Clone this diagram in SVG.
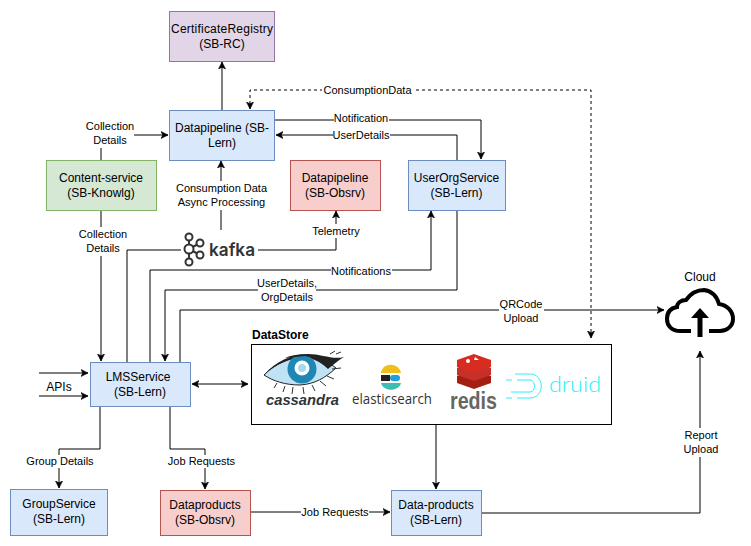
<svg xmlns="http://www.w3.org/2000/svg" width="751" height="546" viewBox="0 0 751 546">
<style>
text{font-family:"Liberation Sans",Arial,sans-serif;fill:#000}
.n{font-size:12px;text-anchor:middle}
.l{font-size:11px;text-anchor:middle}
.lb{fill:#fff;stroke:none}
.c{fill:none;stroke:#000;stroke-width:1}
.blue{fill:#dae8fc;stroke:#6c8ebf}
.green{fill:#d5e8d4;stroke:#82b366}
.red{fill:#f8cecc;stroke:#b85450}
.purple{fill:#e1d5e7;stroke:#9673a6}
</style>
<defs>
<marker id="a" markerWidth="8" markerHeight="8" refX="7" refY="4" orient="auto-start-reverse" markerUnits="userSpaceOnUse"><path d="M0 .5L7 4L0 7.5L1.800 4Z" fill="#000" stroke="#000" stroke-width=".6"/></marker>
</defs>
<rect width="751" height="546" fill="#fff"/>
<g id="connectors">
<path class="c" d="M222 110V62" marker-end="url(#a)"/>
<path class="c" d="M101 160V135H168" marker-end="url(#a)"/>
<path class="c" d="M221 230V161" marker-end="url(#a)"/>
<path class="c" d="M591 338V90H250V109" stroke-dasharray="3 3" marker-start="url(#a)" marker-end="url(#a)"/>
<path class="c" d="M275 120H481V159" marker-end="url(#a)"/>
<path class="c" d="M457 160V135H276" marker-end="url(#a)"/>
<path class="c" d="M101 210V361" marker-end="url(#a)"/>
<path class="c" d="M258 250H336V211" marker-end="url(#a)"/>
<path class="c" d="M181 250H127V362"/>
<path class="c" d="M150 362V270H431V211" marker-end="url(#a)"/>
<path class="c" d="M457 210V290H165V361" marker-end="url(#a)"/>
<path class="c" d="M180 362V310H664" marker-end="url(#a)"/>
<path class="c" d="M192 384H248" marker-start="url(#a)" marker-end="url(#a)"/>
<path class="c" d="M39 373H88" marker-end="url(#a)"/>
<path class="c" d="M39 396H88" marker-end="url(#a)"/>
<path class="c" d="M100 406V449H59V488" marker-end="url(#a)"/>
<path class="c" d="M170 406V449H205V489" marker-end="url(#a)"/>
<path class="c" d="M251 512H390" marker-end="url(#a)"/>
<path class="c" d="M436 424V489" marker-end="url(#a)"/>
<path class="c" d="M482 513H700V351" marker-end="url(#a)"/>
<g id="connector-labels">
<rect class="lb" x="82" y="120" width="52" height="28"/>
<text class="l" x="110" y="130">Collection</text><text class="l" x="110" y="144">Details</text>
<rect class="lb" x="174" y="181" width="96" height="29"/>
<text class="l" x="221.500" y="192">Consumption Data</text><text class="l" x="221.500" y="206">Async Processing</text>
<rect class="lb" x="322" y="84" width="91" height="13"/>
<text class="l" x="367.500" y="94">ConsumptionData</text>
<rect class="lb" x="334" y="113" width="55" height="13"/>
<text class="l" x="361" y="122">Notification</text>
<rect class="lb" x="333" y="129" width="57" height="13"/>
<text class="l" x="361" y="139">UserDetails</text>
<rect class="lb" x="78" y="227" width="48" height="29"/>
<text class="l" x="103" y="238">Collection</text><text class="l" x="103" y="252">Details</text>
<rect class="lb" x="312" y="224" width="49" height="14"/>
<text class="l" x="336" y="235">Telemetry</text>
<rect class="lb" x="331" y="264" width="61" height="13"/>
<text class="l" x="361" y="275">Notifications</text>
<rect class="lb" x="258" y="277" width="58" height="28"/>
<text class="l" x="287" y="287">UserDetails,</text><text class="l" x="287" y="301">OrgDetails</text>
<rect class="lb" x="499" y="297" width="45" height="28"/>
<text class="l" x="521" y="308">QRCode</text><text class="l" x="521" y="322">Upload</text>
<rect class="lb" x="26" y="455" width="69" height="13"/>
<text class="l" x="60" y="465">Group Details</text>
<rect class="lb" x="167" y="455" width="70" height="13"/>
<text class="l" x="201.500" y="465">Job Requests</text>
<rect class="lb" x="301" y="505" width="68" height="14"/>
<text class="l" x="335" y="516">Job Requests</text>
<rect class="lb" x="683" y="428" width="36" height="29"/>
<text class="l" x="701" y="439">Report</text><text class="l" x="701" y="453">Upload</text>
<text class="n" x="59" y="391">APIs</text>
</g>
</g>
<g id="certificate-registry"><rect class="purple" x="169.500" y="11.500" width="105" height="50"/><text class="n" x="222" y="33" textLength="102" lengthAdjust="spacing">CertificateRegistry</text><text class="n" x="222" y="48">(SB-RC)</text></g>
<g id="datapipeline-lern"><rect class="blue" x="169.500" y="110.500" width="105" height="50"/><text class="n" x="222" y="132">Datapipeline (SB-</text><text class="n" x="222" y="147">Lern)</text></g>
<g id="content-service"><rect class="green" x="46.500" y="160.500" width="110" height="50"/><text class="n" x="101" y="182">Content-service</text><text class="n" x="101" y="197">(SB-Knowlg)</text></g>
<g id="datapipeline-obsrv"><rect class="red" x="290.500" y="160.500" width="90" height="50"/><text class="n" x="335" y="182">Datapipeline</text><text class="n" x="335" y="197">(SB-Obsrv)</text></g>
<g id="userorg-service"><rect class="blue" x="408.500" y="160.500" width="97" height="50"/><text class="n" x="456.500" y="182">UserOrgService</text><text class="n" x="456.500" y="197">(SB-Lern)</text></g>
<g id="lms-service"><rect class="blue" x="90.500" y="362.500" width="100" height="44"/><text class="n" x="138" y="381">LMSService</text><text class="n" x="140" y="396">(SB-Lern)</text></g>
<g id="group-service"><rect class="blue" x="10.500" y="489.500" width="97" height="46"/><text class="n" x="59" y="508">GroupService</text><text class="n" x="59" y="523">(SB-Lern)</text></g>
<g id="dataproducts-obsrv"><rect class="red" x="160.500" y="490.500" width="90" height="45"/><text class="n" x="205" y="509">Dataproducts</text><text class="n" x="205" y="524">(SB-Obsrv)</text></g>
<g id="dataproducts-lern"><rect class="blue" x="391.500" y="490.500" width="90" height="45"/><text class="n" x="436" y="509">Data-products</text><text class="n" x="436" y="524">(SB-Lern)</text></g>
<g id="kafka">
<g fill="none" stroke="#333" stroke-width="2">
<path d="M189 240V259M189 249L200 243M189 249L200 255"/>
<circle cx="189" cy="237" r="3.500" fill="#fff"/><circle cx="189" cy="249" r="4.500" fill="#fff"/><circle cx="189" cy="262" r="3.500" fill="#fff"/><circle cx="200" cy="243" r="3.500" fill="#fff"/><circle cx="200" cy="255" r="3.500" fill="#fff"/>
</g>
<text x="209" y="256" font-size="17.500" font-weight="600" textLength="46" lengthAdjust="spacingAndGlyphs" style="font-family:Inter,'Liberation Sans',sans-serif;fill:#333">kafka</text>
</g>
<g id="datastore">
<text x="252" y="339" font-size="12" font-weight="700">DataStore</text>
<rect x="251.500" y="344.500" width="360" height="80" fill="#fff" stroke="#000"/>
<g id="cassandra">
<path d="M264 375C276 363 290 357 305 356C318 356 328 362 336 368C325 378 315 384 300 385C285 385 273 381 264 375Z" fill="#bfe3f5" stroke="#222" stroke-width="1"/>
<path d="M264 375C276 361 292 354 308 354C322 354 332 360 344 357C336 362 332 366 328 369C320 361 312 358 303 358C290 358 276 364 264 375Z" fill="#222"/>
<circle cx="302" cy="369" r="14.500" fill="#1f86b5"/>
<path d="M285 358C295 353 312 353 322 360L305 356Z" fill="#222"/>
<circle cx="302" cy="368" r="7.500" fill="#fff"/><circle cx="302" cy="368" r="4" fill="#a6d9ef"/>
<path d="M277 383L274 388M285 386L283 392M293 387L292 394M303 387L304 394M312 385L315 391M320 381L326 386M327 376L334 379M332 369L341 368M330 354L335 351M336 354L341 352" stroke="#333" stroke-width="1" fill="none"/>
<text x="266" y="405" font-size="15" font-weight="700" font-style="italic" textLength="73" lengthAdjust="spacingAndGlyphs" style="fill:#333">cassandra</text>
</g>
<g id="elasticsearch">
<path d="M381 373C382 362 399 362 401 373Z" fill="#f0bf1a"/>
<rect x="381" y="375" width="9" height="6" fill="#231f20"/><rect x="390" y="375" width="10" height="6" rx="3" fill="#1ba1dc"/>
<path d="M381 383H401C399 392 383 392 381 383Z" fill="#3ebeb0"/>
<text x="352" y="404" font-size="14" textLength="80" lengthAdjust="spacingAndGlyphs" style="fill:#333;font-family:'Open Sans','Liberation Sans',sans-serif">elasticsearch</text>
</g>
<g id="redis">
<path d="M457 376L474 370L491 376V383L474 389L457 383Z" fill="#a41e11"/>
<path d="M457 368L474 362L491 368V375L474 381L457 375Z" fill="#c6302b"/>
<path d="M457 360L474 354L491 360V367L474 373L457 367Z" fill="#d82c20"/>
<circle cx="468" cy="361" r="2" fill="#fff"/><path d="M475 357l4 3h-5Z" fill="#fff"/>
<text x="450" y="409" font-size="24" font-weight="700" textLength="47" lengthAdjust="spacingAndGlyphs" style="fill:#666">redis</text>
</g>
<g id="druid" fill="none" stroke="#2ceefb" stroke-width="1">
<path d="M515 374H530C545 374 545 398 530 398H517"/><path d="M506 380H512M517 380H530C536 380 536 392 530 392H511"/><path d="M506 398H512"/>
<text x="549" y="392" font-size="22" font-weight="300" textLength="52" lengthAdjust="spacingAndGlyphs" stroke="none" style="fill:#2ceefb;font-family:Lato,'Liberation Sans',sans-serif">druid</text>
</g>
</g>
<g id="cloud">
<text class="n" x="700" y="281">Cloud</text>
<path d="M691 331H680C672 331 667 326 667 319C667 312 671 308 677 307C677 303 681 300 686 300C691 293 698 290 704 290C712 291 717 297 719 304C727 305 733 311 733 319C733 326 727 331 720 331H709" fill="none" stroke="#000" stroke-width="4"/>
<path d="M700 337V317" stroke="#000" stroke-width="5"/>
<path d="M691 318L700 308L709 318Z" fill="#000"/>
</g>
</svg>
